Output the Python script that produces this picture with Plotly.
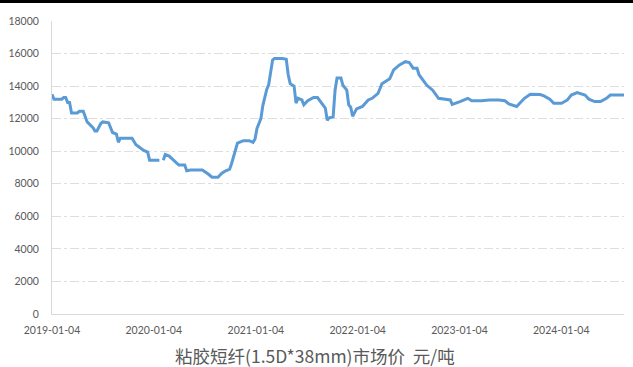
import pandas as pd
import plotly.graph_objects as go

# week index since 2019-01-04 (weekly data) and price (元/吨)
weeks = [0, 1, 5, 6, 7, 8, 9, 10, 13, 14, 16, 18, 21, 22, 23, 25, 26, 29, 31, 33,
         34, 35, 41, 43, 47, 49, 50, 55, 56, 57, 58, 60, 63, 65, 68, 69, 71, 77, 80, 82,
         85, 87, 89, 91, 92, 94, 95, 98, 101, 103, 104, 105, 107, 108, 109, 110, 111, 112, 113, 114,
         118, 120, 121, 122, 124, 125, 126, 128, 129, 131, 134, 136, 138, 140, 141, 142, 144, 145, 146, 148,
         149, 151, 152, 153, 154, 156, 159, 162, 164, 167, 169, 173, 175, 178, 181, 183, 185, 187, 188, 192,
         195, 198, 204, 205, 209, 213, 215, 220, 224, 229, 232, 234, 238, 242, 245, 250, 252, 255, 257, 261,
         264, 266, 269, 273, 275, 278, 281, 284, 286, 293]
prices = [13500, 13200, 13200, 13300, 13300, 13000, 13000, 12350, 12350, 12450, 12450, 11800, 11450, 11250, 11250, 11700, 11800, 11750, 11150, 11050,
          10550, 10800, 10800, 10400, 10050, 9950, 9450, 9450, None, 9450, 9800, 9700, 9350, 9150, 9150, 8800, 8850, 8850, 8600, 8400,
          8400, 8650, 8800, 8900, 9250, 10050, 10500, 10650, 10650, 10550, 10750, 11400, 12000, 12800, 13300, 13800, 14100, 15000, 15600, 15700,
          15700, 15650, 14700, 14150, 14000, 12950, 13250, 13150, 12850, 13100, 13300, 13300, 12950, 12650, 11900, 12050, 12100, 13750, 14500, 14500,
          14050, 13750, 12850, 12700, 12150, 12600, 12750, 13150, 13250, 13550, 14150, 14450, 15000, 15300, 15500, 15450, 15100, 15100, 14700, 14050,
          13750, 13250, 13150, 12880, 13050, 13250, 13100, 13100, 13150, 13150, 13100, 12900, 12750, 13250, 13500, 13480, 13400, 13200, 12950, 12950,
          13150, 13450, 13600, 13450, 13200, 13050, 13050, 13250, 13450, 13450]

tick_labels = ["2019-01-04", "2020-01-04", "2021-01-04", "2022-01-04", "2023-01-04", "2024-01-04"]
y_ticks = [0, 2000, 4000, 6000, 8000, 10000, 12000, 14000, 16000, 18000]
title_text = "粘胶短纤(1.5D*38mm)市场价  元/吨"

dates = pd.Timestamp("2019-01-04") + pd.to_timedelta([7 * w for w in weeks], unit="D")

fig = go.Figure()
fig.add_trace(go.Scatter(x=dates, y=prices, mode="lines",
                         line=dict(color="#5B9BD5", width=3), connectgaps=False,
                         hoverinfo="skip"))

font_tick = dict(family="Lato, 'Noto Sans CJK SC'", size=10.5, color="#595959")

fig.update_layout(
    width=633, height=367,
    margin=dict(l=52, r=9, t=21, b=53),
    plot_bgcolor="white", paper_bgcolor="white",
    showlegend=False,
    xaxis=dict(
        type="date",
        range=[dates[0], dates[-1]],
        tickvals=pd.to_datetime(tick_labels), ticktext=tick_labels,
        showgrid=False, zeroline=False,
        showline=True, linecolor="#D9D9D9", linewidth=1,
        tickfont=font_tick, ticks="", ticklabelstandoff=6,
    ),
    yaxis=dict(
        range=[0, 18000], tickvals=y_ticks, ticktext=[str(v) for v in y_ticks],
        showgrid=True, gridcolor="#DEDEDE", griddash="dashdot", gridwidth=1,
        zeroline=False, showline=True, linecolor="#D9D9D9", linewidth=1,
        tickfont=font_tick, ticks="", ticklabelstandoff=10,
    ),
    annotations=[dict(text=title_text, xref="paper", yref="paper", x=0.46, y=-0.14,
                      xanchor="center", yanchor="middle", showarrow=False,
                      font=dict(family="'Noto Sans CJK SC', Lato", size=17.5, color="#595959"))],
    shapes=[dict(type="rect", xref="paper", yref="paper", x0=-0.1, x1=1.1,
                 y0=1.0614, y1=1.08, fillcolor="black", line=dict(width=0), layer="above")],
)

fig.write_html("out.html")
